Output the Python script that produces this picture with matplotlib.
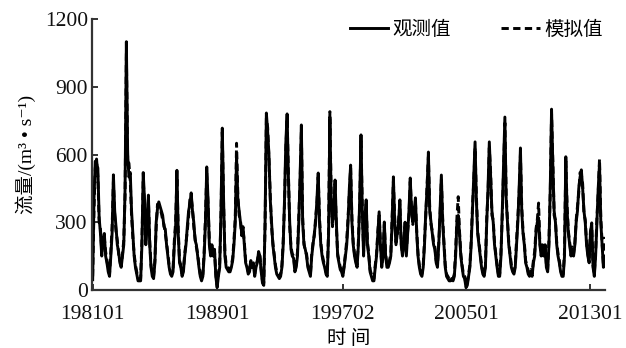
import matplotlib
matplotlib.use("Agg")
import matplotlib.pyplot as plt
import numpy as np

# monthly flow 1981-01 .. 2013-12, one row per year
observed = [
    45, 400, 570, 560, 540, 320, 250, 150, 230, 250, 150, 120,   # 1981
    80, 60, 150, 250, 510, 350, 280, 200, 170, 120, 100, 150,    # 1982
    200, 450, 1100, 600, 500, 520, 350, 250, 150, 100, 70, 40,   # 1983
    40, 40, 200, 520, 400, 200, 300, 420, 200, 100, 60, 50,      # 1984
    120, 300, 360, 390, 370, 350, 330, 280, 270, 200, 150, 100,  # 1985
    70, 60, 80, 200, 280, 530, 250, 120, 100, 60, 80, 150,       # 1986
    200, 280, 350, 380, 430, 350, 300, 220, 200, 150, 100, 60,   # 1987
    40, 60, 150, 300, 545, 400, 200, 150, 200, 150, 180, 60,     # 1988
    10, 60, 100, 350, 717, 400, 150, 100, 90, 80, 80, 100,       # 1989
    130, 200, 300, 590, 400, 350, 300, 250, 280, 200, 120, 100,  # 1990
    70, 80, 120, 100, 110, 60, 100, 120, 170, 150, 80, 30,       # 1991
    20, 300, 784, 700, 600, 400, 300, 200, 150, 100, 70, 60,     # 1992
    50, 60, 100, 200, 400, 650, 780, 500, 300, 180, 150, 140,    # 1993
    80, 100, 150, 300, 500, 731, 300, 200, 180, 150, 100, 80,    # 1994
    60, 150, 200, 250, 300, 400, 518, 300, 200, 150, 120, 100,   # 1995
    70, 60, 250, 760, 400, 300, 350, 487, 300, 150, 120, 90,     # 1996
    80, 60, 100, 150, 200, 300, 450, 553, 300, 200, 150, 120,    # 1997
    100, 200, 400, 687, 350, 150, 300, 399, 200, 150, 80, 60,    # 1998
    40, 40, 100, 150, 250, 346, 200, 100, 150, 301, 150, 100,    # 1999
    100, 120, 150, 300, 501, 300, 200, 250, 300, 399, 200, 150,  # 2000
    200, 300, 150, 250, 350, 496, 350, 300, 350, 408, 250, 150,  # 2001
    100, 70, 60, 100, 200, 350, 450, 611, 350, 300, 250, 200,    # 2002
    180, 120, 100, 200, 350, 509, 300, 200, 100, 60, 50, 40,     # 2003
    40, 50, 40, 60, 150, 300, 330, 250, 150, 100, 60, 50,        # 2004
    10, 20, 60, 100, 200, 350, 500, 656, 400, 250, 200, 150,     # 2005
    100, 70, 60, 100, 300, 450, 656, 500, 350, 300, 200, 150,    # 2006
    100, 60, 60, 150, 350, 550, 766, 400, 300, 200, 150, 100,    # 2007
    80, 70, 100, 200, 300, 450, 629, 350, 250, 200, 120, 100,    # 2008
    70, 60, 80, 60, 120, 150, 250, 300, 320, 200, 150, 200,      # 2009
    150, 200, 100, 80, 200, 450, 801, 550, 350, 300, 200, 150,   # 2010
    120, 80, 60, 60, 150, 590, 350, 250, 200, 150, 180, 150,     # 2011
    200, 300, 350, 450, 500, 532, 450, 350, 300, 200, 150, 120,  # 2012
    250, 297, 100, 60, 150, 300, 450, 560, 300, 200, 100, 150,   # 2013
]

simulated = [
    60, 350, 540, 580, 500, 300, 270, 170, 210, 230, 170, 130,
    90, 70, 170, 280, 480, 330, 260, 220, 160, 130, 110, 160,
    220, 420, 1050, 580, 560, 480, 330, 230, 160, 110, 80, 50,
    50, 50, 220, 490, 380, 220, 280, 400, 220, 110, 70, 60,
    130, 280, 380, 370, 360, 340, 310, 290, 250, 210, 160, 110,
    80, 70, 90, 220, 300, 500, 270, 130, 110, 70, 90, 160,
    210, 260, 330, 400, 410, 360, 280, 230, 190, 160, 110, 70,
    50, 70, 170, 320, 520, 380, 220, 160, 190, 160, 170, 70,
    20, 70, 120, 330, 700, 380, 170, 110, 100, 90, 90, 110,
    140, 220, 320, 650, 420, 330, 310, 240, 270, 210, 130, 110,
    80, 90, 130, 110, 120, 70, 110, 130, 160, 150, 90, 40,
    30, 280, 760, 720, 580, 420, 280, 210, 160, 110, 80, 70,
    60, 70, 110, 220, 380, 620, 760, 520, 280, 190, 160, 150,
    90, 110, 170, 320, 480, 700, 320, 210, 170, 160, 110, 90,
    70, 160, 210, 240, 320, 380, 500, 320, 210, 160, 130, 110,
    80, 70, 270, 790, 420, 280, 360, 470, 280, 160, 130, 100,
    90, 70, 110, 160, 220, 320, 430, 540, 320, 210, 160, 130,
    110, 220, 380, 660, 370, 170, 320, 380, 210, 160, 90, 70,
    50, 50, 110, 160, 260, 330, 210, 110, 160, 290, 160, 110,
    110, 130, 160, 320, 480, 320, 210, 240, 310, 380, 210, 160,
    210, 280, 170, 260, 330, 480, 360, 290, 360, 390, 260, 160,
    110, 80, 70, 110, 220, 330, 470, 590, 370, 290, 260, 210,
    190, 130, 110, 210, 330, 490, 320, 210, 110, 70, 60, 50,
    50, 60, 50, 70, 170, 320, 413, 260, 160, 110, 70, 60,
    20, 30, 70, 110, 220, 370, 480, 630, 420, 260, 210, 160,
    110, 80, 70, 110, 320, 430, 630, 520, 330, 310, 210, 160,
    110, 70, 70, 170, 330, 530, 740, 420, 310, 210, 160, 110,
    90, 80, 110, 220, 320, 430, 600, 370, 260, 210, 130, 110,
    80, 70, 90, 70, 130, 170, 270, 310, 385, 210, 160, 210,
    160, 210, 110, 90, 220, 430, 780, 570, 330, 310, 210, 160,
    130, 90, 70, 70, 170, 570, 370, 260, 210, 160, 190, 160,
    210, 310, 370, 430, 520, 510, 470, 340, 310, 210, 160, 130,
    260, 280, 110, 70, 170, 320, 430, 580, 320, 210, 110, 235,
]

tick_pos = [0, 96, 193, 288, 384]
tick_lab = ["198101", "198901", "199702", "200501", "201301"]
y_ticks = [0, 300, 600, 900, 1200]

serif = ["Liberation Serif", "Noto Sans CJK SC", "DejaVu Sans"]
cjk = ["Noto Sans CJK SC", "DejaVu Sans"]

fig = plt.figure(figsize=(6.26, 3.48), dpi=100)
ax = fig.add_axes([0.147, 0.167, 0.82, 0.778])

m = np.arange(len(observed))
ax.plot(m, observed, color="black", lw=2.1, label="观测值")
ax.plot(m, simulated, color="black", lw=2.1, ls=(0, (2.5, 1.5)), label="模拟值")

ax.set_xlim(-0.5, len(observed) - 0.5)
ax.set_ylim(0, 1200)
ax.set_xticks(tick_pos)
ax.set_xticklabels(tick_lab, family=serif, fontsize=15.5)
ax.set_yticks(y_ticks)
ax.set_yticklabels([str(v) for v in y_ticks], family=serif, fontsize=15.5)
ax.tick_params(direction="in", length=4, width=1.2, colors="#111111")
ax.tick_params(axis="x", pad=11)
ax.tick_params(axis="y", pad=3)
for s in ["top", "right"]:
    ax.spines[s].set_visible(False)
for s in ["left", "bottom"]:
    ax.spines[s].set_linewidth(1.6)
    ax.spines[s].set_color("#333333")

ax.set_xlabel("时 间", family=cjk, fontsize=14, labelpad=3)
ax.set_ylabel("流量/(m³ • s⁻¹)", family=serif, fontsize=14, labelpad=6)

leg = ax.legend(loc="upper right", ncol=2, frameon=False, prop={"family": cjk, "size": 14},
                handlelength=2.0, handletextpad=0.2, columnspacing=2.6,
                bbox_to_anchor=(1.01, 1.03), borderaxespad=0)

fig.savefig("out.png", dpi=100)
